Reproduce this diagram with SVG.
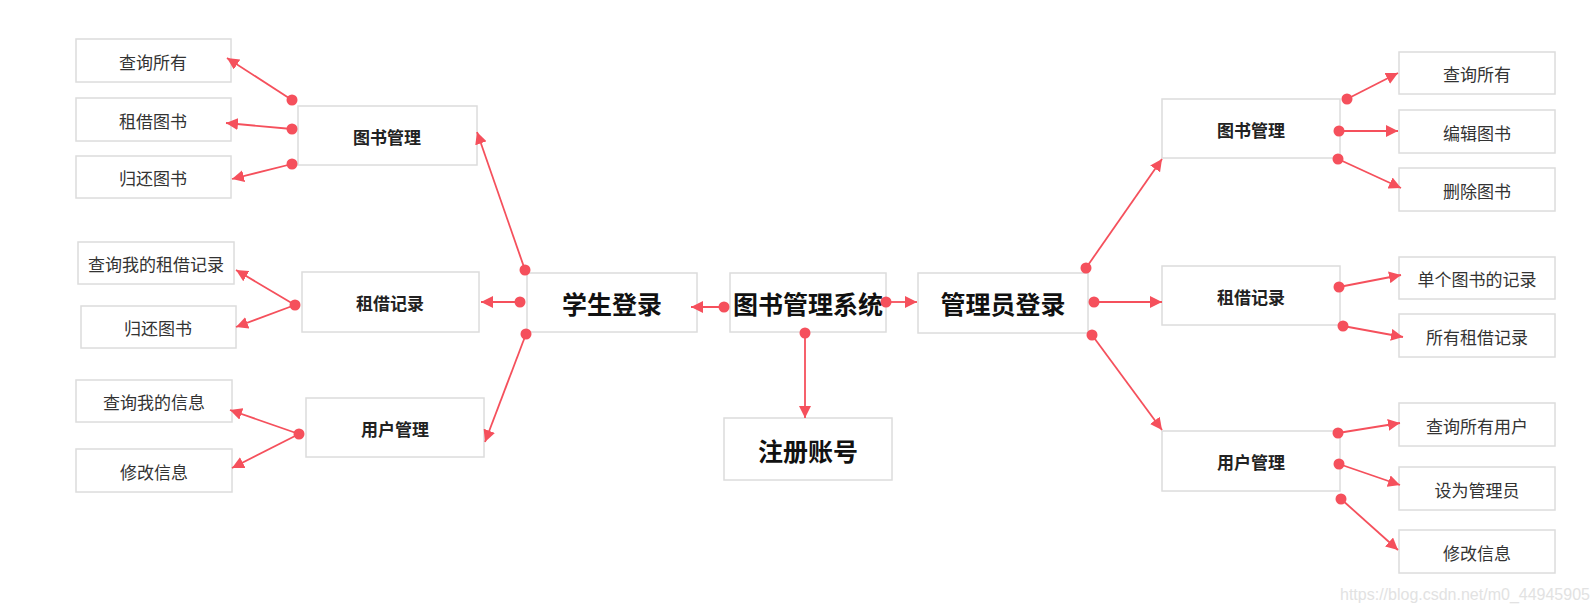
<svg xmlns="http://www.w3.org/2000/svg" width="1595" height="613" viewBox="0 0 1595 613">
<defs>
<style>
.box{fill:#fff;stroke:#dcdcdc;stroke-width:1.5}
.main{font-family:"Noto Sans CJK SC","Noto Sans",sans-serif;font-size:25px;font-weight:bold;fill:#111;text-anchor:middle;dominant-baseline:central}
.sub{font-family:"Noto Sans CJK SC","Noto Sans",sans-serif;font-size:17px;font-weight:bold;fill:#222;text-anchor:middle;dominant-baseline:central}
.leaf{font-family:"Noto Sans CJK SC","Noto Sans",sans-serif;font-size:17px;fill:#333;text-anchor:middle;dominant-baseline:central}
.wm{font-family:"Liberation Sans",Arial,sans-serif;font-size:16px;fill:#e2e2e2}
.c line{stroke:#f5505c;stroke-width:1.8;marker-end:url(#ah)}
.c circle{fill:#f5505c}
</style>
<marker id="ah" viewBox="0 0 12 12" refX="12" refY="6" markerWidth="12" markerHeight="12" markerUnits="userSpaceOnUse" orient="auto">
<path d="M0,0 L12,6 L0,12 z" fill="#f5505c"/>
</marker>
</defs>
<rect width="1595" height="613" fill="#fff"/>

<!-- center -->
<g id="n-system"><rect class="box" x="730" y="273" width="156" height="59"/><text class="main" x="808" y="303">图书管理系统</text></g>
<g id="n-register"><rect class="box" x="724" y="418" width="168" height="62"/><text class="main" x="808" y="450">注册账号</text></g>
<g id="n-student"><rect class="box" x="527" y="273" width="170" height="59"/><text class="main" x="612" y="303">学生登录</text></g>
<g id="n-admin"><rect class="box" x="918" y="273" width="170" height="60"/><text class="main" x="1003" y="303">管理员登录</text></g>

<!-- student side -->
<g id="n-s-book"><rect class="box" x="298" y="106" width="179" height="59"/><text class="sub" x="387" y="136">图书管理</text></g>
<g id="n-s-rent"><rect class="box" x="302" y="272" width="177" height="60"/><text class="sub" x="390" y="302">租借记录</text></g>
<g id="n-s-user"><rect class="box" x="306" y="398" width="178" height="59"/><text class="sub" x="395" y="428">用户管理</text></g>
<g id="n-s-b1"><rect class="box" x="76" y="39" width="155" height="43"/><text class="leaf" x="153" y="61">查询所有</text></g>
<g id="n-s-b2"><rect class="box" x="76" y="98" width="155" height="43"/><text class="leaf" x="153" y="120">租借图书</text></g>
<g id="n-s-b3"><rect class="box" x="76" y="156" width="155" height="42"/><text class="leaf" x="153" y="177">归还图书</text></g>
<g id="n-s-r1"><rect class="box" x="78" y="242" width="156" height="42"/><text class="leaf" x="156" y="263">查询我的租借记录</text></g>
<g id="n-s-r2"><rect class="box" x="81" y="306" width="155" height="42"/><text class="leaf" x="158" y="327">归还图书</text></g>
<g id="n-s-u1"><rect class="box" x="76" y="380" width="156" height="42"/><text class="leaf" x="154" y="401">查询我的信息</text></g>
<g id="n-s-u2"><rect class="box" x="76" y="449" width="156" height="43"/><text class="leaf" x="154" y="471">修改信息</text></g>

<!-- admin side -->
<g id="n-a-book"><rect class="box" x="1162" y="99" width="178" height="59"/><text class="sub" x="1251" y="129">图书管理</text></g>
<g id="n-a-rent"><rect class="box" x="1162" y="266" width="178" height="59"/><text class="sub" x="1251" y="296">租借记录</text></g>
<g id="n-a-user"><rect class="box" x="1162" y="431" width="178" height="60"/><text class="sub" x="1251" y="461">用户管理</text></g>
<g id="n-a-b1"><rect class="box" x="1399" y="52" width="156" height="42"/><text class="leaf" x="1477" y="73">查询所有</text></g>
<g id="n-a-b2"><rect class="box" x="1399" y="110" width="156" height="43"/><text class="leaf" x="1477" y="132">编辑图书</text></g>
<g id="n-a-b3"><rect class="box" x="1399" y="168" width="156" height="43"/><text class="leaf" x="1477" y="190">删除图书</text></g>
<g id="n-a-r1"><rect class="box" x="1399" y="257" width="156" height="42"/><text class="leaf" x="1477" y="278">单个图书的记录</text></g>
<g id="n-a-r2"><rect class="box" x="1399" y="314" width="156" height="43"/><text class="leaf" x="1477" y="336">所有租借记录</text></g>
<g id="n-a-u1"><rect class="box" x="1399" y="403" width="156" height="43"/><text class="leaf" x="1477" y="425">查询所有用户</text></g>
<g id="n-a-u2"><rect class="box" x="1399" y="467" width="156" height="43"/><text class="leaf" x="1477" y="489">设为管理员</text></g>
<g id="n-a-u3"><rect class="box" x="1399" y="530" width="156" height="43"/><text class="leaf" x="1477" y="552">修改信息</text></g>

<g id="connectors" class="c">
<line x1="724" y1="307" x2="691" y2="307"/><circle cx="724" cy="307" r="5.5"/>
<line x1="886" y1="302" x2="917" y2="302"/><circle cx="886" cy="302" r="5.5"/>
<line x1="805" y1="333" x2="805" y2="418"/><circle cx="805" cy="333" r="5.5"/>

<line x1="525" y1="270" x2="477" y2="132"/><circle cx="525" cy="270" r="5.5"/>
<line x1="520" y1="302" x2="481" y2="302"/><circle cx="520" cy="302" r="5.5"/>
<line x1="526" y1="334" x2="485" y2="442"/><circle cx="526" cy="334" r="5.5"/>

<line x1="292" y1="100" x2="227" y2="58"/><circle cx="292" cy="100" r="5.5"/>
<line x1="292" y1="129" x2="226" y2="123"/><circle cx="292" cy="129" r="5.5"/>
<line x1="292" y1="164" x2="232" y2="179"/><circle cx="292" cy="164" r="5.5"/>
<line x1="295" y1="305" x2="236" y2="270"/>
<line x1="295" y1="305" x2="236" y2="327"/><circle cx="295" cy="305" r="5.5"/>
<line x1="299" y1="434" x2="230" y2="410"/>
<line x1="299" y1="434" x2="232" y2="468"/><circle cx="299" cy="434" r="5.5"/>

<line x1="1086" y1="268" x2="1162" y2="159"/><circle cx="1086" cy="268" r="5.5"/>
<line x1="1094" y1="302" x2="1162" y2="302"/><circle cx="1094" cy="302" r="5.5"/>
<line x1="1092" y1="335" x2="1162" y2="430"/><circle cx="1092" cy="335" r="5.5"/>

<line x1="1347" y1="99" x2="1398" y2="73"/><circle cx="1347" cy="99" r="5.5"/>
<line x1="1339" y1="131" x2="1398" y2="131"/><circle cx="1339" cy="131" r="5.5"/>
<line x1="1338" y1="159" x2="1401" y2="188"/><circle cx="1338" cy="159" r="5.5"/>
<line x1="1339" y1="287" x2="1401" y2="275"/><circle cx="1339" cy="287" r="5.5"/>
<line x1="1343" y1="326" x2="1403" y2="337"/><circle cx="1343" cy="326" r="5.5"/>
<line x1="1338" y1="433" x2="1400" y2="423"/><circle cx="1338" cy="433" r="5.5"/>
<line x1="1339" y1="464" x2="1400" y2="485"/><circle cx="1339" cy="464" r="5.5"/>
<line x1="1341" y1="499" x2="1398" y2="550"/><circle cx="1341" cy="499" r="5.5"/>
</g>

<text class="wm" x="1340" y="600">https://blog.csdn.net/m0_44945905</text>
</svg>
